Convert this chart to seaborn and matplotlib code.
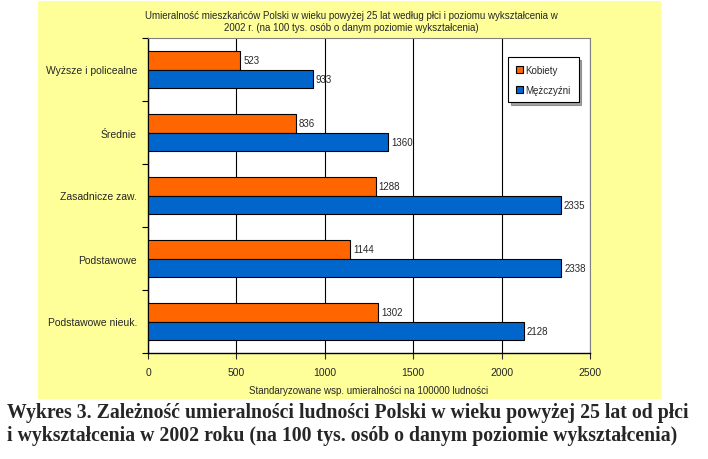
import matplotlib
matplotlib.use("Agg")
import matplotlib.pyplot as plt
import numpy as np
import pandas as pd
import seaborn as sns
from matplotlib.patches import Rectangle

# dane z wykresu
kategorie = ["Wyższe i policealne", "Średnie", "Zasadnicze zaw.", "Podstawowe", "Podstawowe nieuk."]
kobiety = [523, 836, 1288, 1144, 1302]
mezczyzni = [933, 1360, 2335, 2338, 2128]
plec = ["Kobiety", "Mężczyźni"]
kolory = ["#FF6600", "#0066CC"]

df = pd.DataFrame({
    "kat": kategorie * 2,
    "val": kobiety + mezczyzni,
    "plec": [plec[0]] * len(kategorie) + [plec[1]] * len(kategorie),
})

sns.set_style("white")
plt.rcParams["font.family"] = ["Liberation Sans", "DejaVu Sans"]

fig = plt.figure(figsize=(7.08, 4.6), dpi=100)
fig.patch.set_facecolor("white")
tlo = Rectangle((38 / 708, 1 - 400 / 460), 623 / 708, 398 / 460,
                transform=fig.transFigure, facecolor="#FFFF99",
                edgecolor="none", zorder=-5)
fig.patches.append(tlo)

ax = fig.add_axes([148 / 708, 1 - 354 / 460, 442 / 708, 315 / 460])
ax.set_zorder(1)
ax.set_facecolor("white")

sns.barplot(data=df, y="kat", x="val", hue="plec", palette=kolory, orient="h",
            width=0.575, saturation=1, edgecolor="black", linewidth=0.8, ax=ax,
            zorder=3, legend=True)

for c in ax.containers:
    ax.bar_label(c, fmt="%d", padding=2, fontsize=7)

ax.set_xlim(0, 2500)
ax.set_ylim(len(kategorie) - 0.5, -0.5)
ax.set_xticks(np.arange(0, 2501, 500))
ax.set_yticks(np.arange(-0.5, len(kategorie), 1), minor=False)
ax.set_yticklabels([])
ax.set_yticks(range(len(kategorie)), minor=True)
ax.set_yticklabels(kategorie, minor=True)
ax.tick_params(axis="y", which="minor", length=0, labelsize=7.5, pad=8)
ax.tick_params(axis="y", which="major", length=4, width=0.8, color="black", direction="out", left=True)
ax.tick_params(axis="x", length=4, width=0.8, direction="out", bottom=True, labelsize=7.5, pad=6)
ax.grid(axis="x", color="black", linewidth=0.8, zorder=0)
ax.set_axisbelow(True)

for s in ["left", "bottom"]:
    ax.spines[s].set_color("black")
    ax.spines[s].set_linewidth(1)
for s in ["top", "right"]:
    ax.spines[s].set_color("#808080")
    ax.spines[s].set_linewidth(0.8)

ax.set_ylabel("")
ax.set_xlabel("Standaryzowane wsp. umieralności na 100000 ludności", fontsize=7, labelpad=6)

fig.text(351 / 708, 1 - 22 / 460,
         "Umieralność mieszkańców Polski w wieku powyżej 25 lat według płci i poziomu wykształcenia w\n"
         "2002 r. (na 100 tys. osób o danym poziomie wykształcenia)",
         ha="center", va="center", fontsize=7, linespacing=1.3)

leg = ax.legend(loc="upper right", bbox_to_anchor=(0.985, 0.955), fontsize=7,
                frameon=True, fancybox=False, shadow=True, handlelength=0.7,
                handleheight=0.7, handletextpad=0.3, borderpad=0.8, labelspacing=1.0)
leg.get_frame().set_edgecolor("black")
leg.get_frame().set_linewidth(0.8)
leg.set_zorder(10)

fig.text(7 / 708, 1 - 413 / 460,
         "Wykres 3. Zależność umieralności ludności Polski w wieku powyżej 25 lat od płci",
         ha="left", va="center", fontsize=14.2, fontweight="bold",
         family=["Liberation Serif", "DejaVu Serif"])
fig.text(7 / 708, 1 - 436 / 460,
         "i wykształcenia w 2002 roku (na 100 tys. osób o danym poziomie wykształcenia)",
         ha="left", va="center", fontsize=14.2, fontweight="bold",
         family=["Liberation Serif", "DejaVu Serif"])

fig.savefig("out.png", dpi=100)
